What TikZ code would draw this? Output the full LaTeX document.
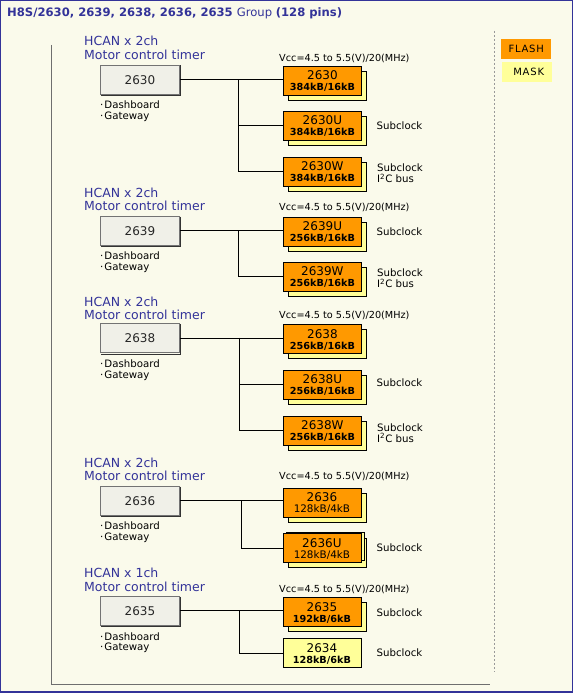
\documentclass[tikz,border=0pt]{standalone}
\usepackage{fontspec}
\setmainfont{DejaVu Sans}
\setsansfont{DejaVu Sans}
\definecolor{bg}{HTML}{FAFAEB}
\definecolor{navy}{HTML}{333399}
\definecolor{flash}{HTML}{FF9900}
\definecolor{mask}{HTML}{FFFF99}
\definecolor{mainfill}{HTML}{F0F0E8}
\definecolor{framegray}{HTML}{6E6E6E}
\definecolor{dashgray}{HTML}{999999}
\newcommand{\cnum}[1]{{\fontsize{12}{11}\selectfont\rule{0pt}{10.2pt}#1}}
\newcommand{\csizeb}[1]{{\bfseries\fontsize{9.7}{11}\selectfont #1}}
\newcommand{\csizer}[1]{{\fontsize{10.4}{11}\selectfont #1}}
\newcommand{\dotitem}[1]{\textperiodcentered\kern1pt #1}
\tikzset{
  mainbox/.style={draw=black!55, fill=mainfill, line width=0.8pt, minimum width=79pt, minimum height=29pt, inner sep=0pt, anchor=north west, font=\fontsize{12}{14}\selectfont, text=black!85},
  mainshade/.style={draw=black!80, line width=1pt},
  chip/.style={draw=black, line width=0.8pt, fill=flash, minimum width=78pt, minimum height=28.8pt, inner sep=0pt, anchor=north west, align=center, font=\fontsize{10}{11}\selectfont},
  mchip/.style={chip, fill=mask},
  shadowbox/.style={draw=black, line width=0.8pt, fill=mask, minimum width=78pt, minimum height=28.8pt, inner sep=0pt, anchor=north west},
  hcan/.style={anchor=base west, inner sep=0pt, text=navy, font=\fontsize{12.5}{14}\selectfont},
  bul/.style={anchor=base west, inner sep=0pt, font=\fontsize{10.2}{12}\selectfont},
  note/.style={anchor=base west, inner sep=0pt, font=\fontsize{10.2}{12}\selectfont},
  notec/.style={anchor=west, inner sep=0pt, font=\fontsize{10.2}{12}\selectfont},
  vcc/.style={anchor=base west, inner sep=0pt, font=\fontsize{9.7}{12}\selectfont},
  link/.style={draw=black, line width=0.9pt},
  legend/.style={anchor=north west, inner sep=0pt, minimum width=50pt, minimum height=19.5pt, font=\fontsize{10}{12}\selectfont}
}
\begin{document}
\begin{tikzpicture}[x=1pt,y=-1pt]
\useasboundingbox (0,0) rectangle (573,693);
\fill[bg] (0,0) rectangle (573,693);
\draw[navy,line width=1pt] (0.5,0.5) rectangle (572.5,692);
\draw[navy,line width=2pt] (0,692) -- (573,692);
% title
\node[anchor=base west, inner sep=0pt, text=navy, font=\fontsize{11.6}{13}\selectfont] (title) at (7,17)
  {\bfseries H8S/2630, 2639, 2638, 2636, 2635 \mdseries Group \bfseries (128 pins)};
% frame
\draw[framegray, line width=1pt] (51,45) -- (51,684) -- (490,684);
\draw[dashgray, line width=1pt, dash pattern=on 2pt off 2pt] (494.5,31) -- (494.5,672);
% legend
\node[legend, fill=flash] (lflash) at (501,39) {F\kern.8pt L\kern.8pt A\kern.8pt S\kern.8pt H};
\node[legend, fill=mask] (lmask) at (502,62) {\kern3pt M\kern.8pt A\kern.8pt S\kern.8pt K};

% ===== Group 1 : 2630
\node[hcan] (h1a) at (84,46) {HCAN x 2ch};
\node[hcan] (h1b) at (84,59.5) {Motor control timer};
\node[mainbox] (m1) at (100,65) {2630};
\draw[mainshade] ([xshift=1pt,yshift=-0.5pt]m1.north east) |- ([xshift=0.5pt,yshift=-1pt]m1.south west);
\node[bul] (d1a) at (100,108.3) {\dotitem{Dashboard}};
\node[bul] (d1b) at (100,119) {\dotitem{Gateway}};
\node[vcc] (v1) at (279,61.5) {Vcc=4.5 to 5.5(V)/20(MHz)};
\coordinate (j1) at (238,79.5);
\draw[link] (m1.east) -- (m1.east -| 283,0);
\node[shadowbox] (s1a) at (288,71) {};
\node[chip] (c1a) at (283,66) {\cnum{2630}\\\csizeb{384kB/16kB}};
\node[shadowbox] (s1b) at (288,116) {};
\node[chip] (c1b) at (283,111) {\cnum{2630U}\\\csizeb{384kB/16kB}};
\node[shadowbox] (s1c) at (288,162) {};
\node[chip] (c1c) at (283,157) {\cnum{2630W}\\\csizeb{384kB/16kB}};
\draw[link] (j1) |- (c1b.west);
\draw[link] (j1) |- (c1c.west);
\node[notec] (n1b) at (376.5,125.5) {Subclock};
\node[note] (n1c) at (377,171) {Subclock};
\node[note] (n1d) at (377,182.7) {I\textsuperscript{2}C bus};

% ===== Group 2 : 2639
\node[hcan] (h2a) at (84,197) {HCAN x 2ch};
\node[hcan] (h2b) at (84,210.5) {Motor control timer};
\node[mainbox] (m2) at (100,216) {2639};
\draw[mainshade] ([xshift=1pt,yshift=-0.5pt]m2.north east) |- ([xshift=0.5pt,yshift=-1pt]m2.south west);
\node[bul] (d2a) at (100,259) {\dotitem{Dashboard}};
\node[bul] (d2b) at (100,270) {\dotitem{Gateway}};
\node[vcc] (v2) at (279,210) {Vcc=4.5 to 5.5(V)/20(MHz)};
\coordinate (j2) at (238,230.5);
\node[shadowbox] (s2a) at (288,222) {};
\node[chip] (c2a) at (283,217) {\cnum{2639U}\\\csizeb{256kB/16kB}};
\node[shadowbox] (s2b) at (288,267) {};
\node[chip] (c2b) at (283,262) {\cnum{2639W}\\\csizeb{256kB/16kB}};
\draw[link] (m2.east) -- (m2.east -| c2a.west);
\draw[link] (j2) |- (c2b.west);
\node[notec] (n2a) at (376.5,232) {Subclock};
\node[note] (n2b) at (377,276) {Subclock};
\node[note] (n2c) at (377,287.7) {I\textsuperscript{2}C bus};

% ===== Group 3 : 2638
\node[hcan] (h3a) at (84,306) {HCAN x 2ch};
\node[hcan] (h3b) at (84,319.5) {Motor control timer};
\node[mainbox] (m3) at (100,323.3) {2638};
\draw[mainshade] ([xshift=1pt,yshift=-0.5pt]m3.north east) |- ([xshift=0.5pt,yshift=-1pt]m3.south west);
\node[bul] (d3a) at (100,367.5) {\dotitem{Dashboard}};
\node[bul] (d3b) at (100,378.3) {\dotitem{Gateway}};
\node[vcc] (v3) at (279,318.3) {Vcc=4.5 to 5.5(V)/20(MHz)};
\coordinate (j3) at (239.3,337.8);
\draw[link] (m3.east) -- (m3.east -| 283,0);
\node[shadowbox] (s3a) at (288,329.3) {};
\node[chip] (c3a) at (283,324.3) {\cnum{2638}\\\csizeb{256kB/16kB}};
\node[shadowbox] (s3b) at (288,375) {};
\node[chip] (c3b) at (283,370) {\cnum{2638U}\\\csizeb{256kB/16kB}};
\node[shadowbox] (s3c) at (288,421) {};
\node[chip] (c3c) at (283,416) {\cnum{2638W}\\\csizeb{256kB/16kB}};
\draw[link] (j3) |- (c3b.west);
\draw[link] (j3) |- (c3c.west);
\node[notec] (n3b) at (376.5,383) {Subclock};
\node[note] (n3c) at (377,431.5) {Subclock};
\node[note] (n3d) at (377,442.3) {I\textsuperscript{2}C bus};

% ===== Group 4 : 2636
\node[hcan] (h4a) at (84,467) {HCAN x 2ch};
\node[hcan] (h4b) at (84,480.7) {Motor control timer};
\node[mainbox] (m4) at (100,486) {2636};
\draw[mainshade] ([xshift=1pt,yshift=-0.5pt]m4.north east) |- ([xshift=0.5pt,yshift=-1pt]m4.south west);
\node[bul] (d4a) at (100,529.3) {\dotitem{Dashboard}};
\node[bul] (d4b) at (100,540) {\dotitem{Gateway}};
\node[vcc] (v4) at (279,479) {Vcc=4.5 to 5.5(V)/20(MHz)};
\coordinate (j4) at (241.7,500.5);
\node[shadowbox] (s4a) at (287.5,492.7) {};
\node[chip] (c4a) at (282.5,487.7) {\cnum{2636}\\\csizer{128kB/4kB}};
\node[shadowbox] (s4b) at (287.5,538.3) {};
\node[shadowbox] (s4bb) at (285.5,531.6) {};
\node[chip] (c4b) at (282.5,533.3) {\cnum{2636U}\\\csizer{128kB/4kB}};
\draw[link] (m4.east) -- (m4.east -| c4a.west);
\draw[link] (j4) |- (c4b.west);
\node[notec] (n4b) at (376.5,547.5) {Subclock};

% ===== Group 5 : 2635
\node[hcan] (h5a) at (84,577.5) {HCAN x 1ch};
\node[hcan] (h5b) at (84,591.5) {Motor control timer};
\node[mainbox] (m5) at (100,596) {2635};
\draw[mainshade] ([xshift=1pt,yshift=-0.5pt]m5.north east) |- ([xshift=0.5pt,yshift=-1pt]m5.south west);
\node[bul] (d5a) at (100,640) {\dotitem{Dashboard}};
\node[bul] (d5b) at (100,650.7) {\dotitem{Gateway}};
\node[vcc] (v5) at (279,592) {Vcc=4.5 to 5.5(V)/20(MHz)};
\coordinate (j5) at (239.3,610.5);
\node[shadowbox] (s5a) at (287.5,602.3) {};
\node[chip] (c5a) at (282.5,597.3) {\cnum{2635}\\\csizeb{192kB/6kB}};
\node[mchip] (c5b) at (282.5,638.3) {\cnum{2634}\\\csizeb{128kB/6kB}};
\draw[link] (m5.east) -- (m5.east -| c5a.west);
\draw[link] (j5) |- (c5b.west);
\node[notec] (n5a) at (376.5,613) {Subclock};
\node[notec] (n5b) at (376.5,652.5) {Subclock};
\end{tikzpicture}
\end{document}
